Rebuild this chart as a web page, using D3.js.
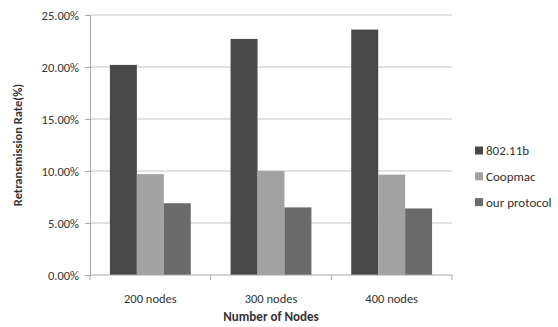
<!DOCTYPE html>
<html>
<head>
<meta charset="utf-8">
<script src="https://cdn.jsdelivr.net/npm/d3@7"></script>
<style>
  html, body { margin: 0; padding: 0; background: #fff; }
  svg text { font-family: Calibri, Carlito, Lato, "Open Sans", sans-serif; fill: #333; }
</style>
</head>
<body>
<svg id="chart" width="558" height="327"></svg>
<script>
// Retransmission rate per node count and protocol
const categories = ["200 nodes", "300 nodes", "400 nodes"];
const seriesNames = ["802.11b", "Coopmac", "our protocol"];
const rate80211b = [20.2, 22.7, 23.6];
const rateCoopmac = [9.7, 10.0, 9.65];
const rateOurProtocol = [6.9, 6.5, 6.4];
const yTicks = [0, 5, 10, 15, 20, 25];
const seriesColors = ["#484848", "#a2a2a2", "#6a6a6a"];

const seriesValues = [rate80211b, rateCoopmac, rateOurProtocol];

const svg = d3.select("#chart");
const plot = { left: 90, right: 452, top: 15, bottom: 275 };

const x0 = d3.scaleBand().domain(categories).range([plot.left, plot.right]).paddingInner(0.33).paddingOuter(0.165);
const x1 = d3.scaleBand().domain(seriesNames).range([0, x0.bandwidth()]);
const y = d3.scaleLinear().domain([0, 25]).range([plot.bottom, plot.top]);

// gridlines
svg.append("g")
  .selectAll("line")
  .data(yTicks.filter(t => t > 0))
  .join("line")
  .attr("x1", plot.left).attr("x2", plot.right)
  .attr("y1", d => y(d)).attr("y2", d => y(d))
  .attr("stroke", "#c6c6c6").attr("stroke-width", 1.2);

// bars
const groups = svg.append("g")
  .selectAll("g")
  .data(categories)
  .join("g")
  .attr("transform", d => `translate(${x0(d)},0)`);

groups.selectAll("rect")
  .data((c, i) => seriesNames.map((s, j) => ({ s, v: seriesValues[j][i], j })))
  .join("rect")
  .attr("x", d => x1(d.s))
  .attr("width", x1.bandwidth())
  .attr("y", d => y(d.v))
  .attr("height", d => y(0) - y(d.v))
  .attr("fill", d => seriesColors[d.j]);

// y axis
const yAxis = svg.append("g")
  .attr("transform", `translate(${plot.left},0)`)
  .call(d3.axisLeft(y).tickValues(yTicks).tickFormat(d => d.toFixed(2) + "%").tickSize(5).tickPadding(6));
yAxis.select(".domain").attr("stroke", "#a8a8a8");
yAxis.selectAll(".tick line").attr("stroke", "#a8a8a8");
yAxis.selectAll(".tick text").attr("font-size", "12.5px").attr("fill", "#333");

// x axis with boundary ticks between categories
const xAxisG = svg.append("g").attr("transform", `translate(0,${plot.bottom})`);
xAxisG.append("line")
  .attr("x1", plot.left).attr("x2", plot.right)
  .attr("stroke", "#a8a8a8");
const boundaries = d3.range(categories.length + 1).map(i => plot.left + i * (plot.right - plot.left) / categories.length);
xAxisG.selectAll("line.tick")
  .data(boundaries)
  .join("line")
  .attr("class", "tick")
  .attr("x1", d => d).attr("x2", d => d)
  .attr("y1", 0).attr("y2", 5)
  .attr("stroke", "#a8a8a8");
xAxisG.selectAll("text")
  .data(categories)
  .join("text")
  .attr("x", d => x0(d) + x0.bandwidth() / 2)
  .attr("y", 28)
  .attr("text-anchor", "middle")
  .attr("font-size", "12.5px")
  .text(d => d);

// axis titles
svg.append("text")
  .attr("x", (plot.left + plot.right) / 2)
  .attr("y", 321)
  .attr("text-anchor", "middle")
  .attr("font-size", "13px")
  .attr("font-weight", "bold")
  .text("Number of Nodes");

svg.append("text")
  .attr("transform", `translate(22,${(plot.top + plot.bottom) / 2}) rotate(-90)`)
  .attr("text-anchor", "middle")
  .attr("font-size", "12.5px")
  .attr("font-weight", "bold")
  .text("Retransmission Rate(%)");

// legend
const legend = svg.append("g")
  .selectAll("g")
  .data(seriesNames)
  .join("g")
  .attr("transform", (d, i) => `translate(475,${150.5 + i * 25.8})`);
legend.append("rect")
  .attr("x", 0).attr("y", -4)
  .attr("width", 8).attr("height", 8)
  .attr("fill", (d, i) => seriesColors[i]);
legend.append("text")
  .attr("x", 11).attr("y", 4.5)
  .attr("font-size", "13px")
  .text(d => d);
</script>
</body>
</html>
